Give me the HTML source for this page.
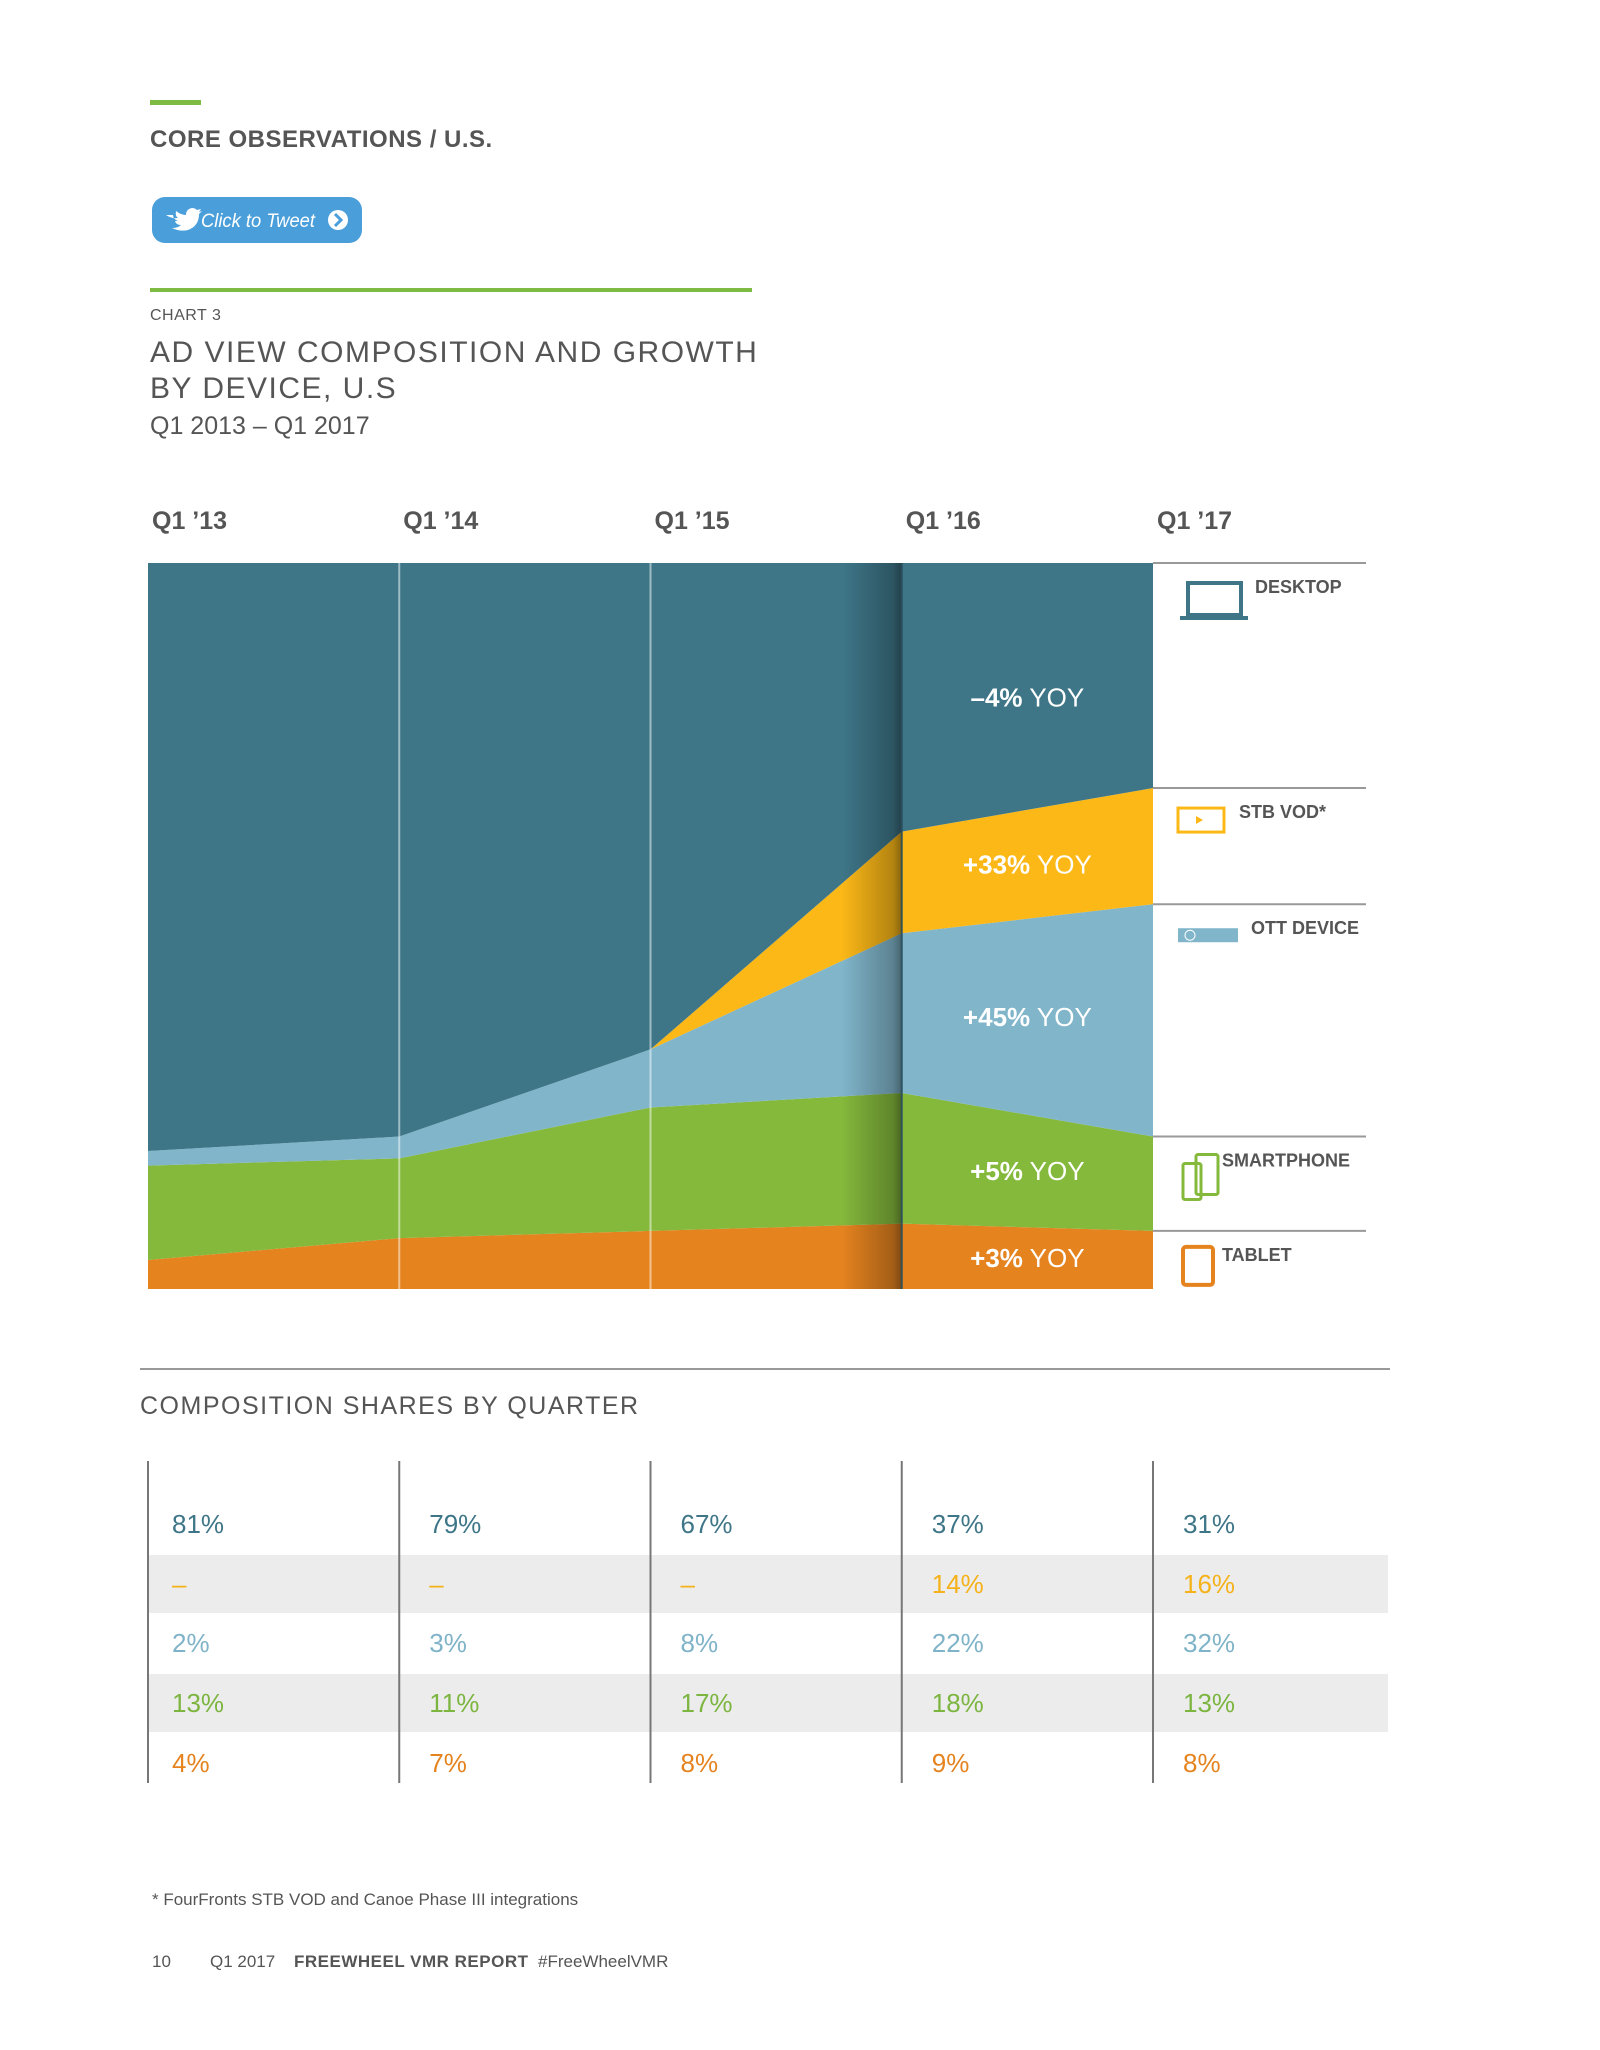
<!DOCTYPE html>
<html><head><meta charset="utf-8"><style>
html,body{margin:0;padding:0;background:#fff;}
svg{display:block;font-family:"Liberation Sans",sans-serif;}
</style></head><body>
<svg id="page" width="1600" height="2050" viewBox="0 0 1600 2050" xmlns="http://www.w3.org/2000/svg">
<defs>
<linearGradient id="fold" x1="0" x2="1" y1="0" y2="0">
<stop offset="0" stop-color="#000" stop-opacity="0"/>
<stop offset="0.85" stop-color="#000" stop-opacity="0.28"/>
<stop offset="1" stop-color="#000" stop-opacity="0.45"/>
</linearGradient>
</defs>
<rect x="150" y="100" width="51" height="5" fill="#7dbb42"/>
<text x="150" y="147" font-size="24" fill="#555" font-weight="bold" letter-spacing="0.5">CORE OBSERVATIONS / U.S.</text>
<g>
<rect x="152" y="197" width="210" height="46" rx="13" fill="#4a9fdb"/>
<path d="M166 215 q6 4 12 3 q-3-2-2-7 q5 4 10 4 q0-6 6-7 q3 0 5 2 l4-1 -2 3 3-1 -3 3 q0 12-11 16 q-8 2-16-2 q6 0 9-3 q-5 0-6-4 h3 q-5-2-5-6 z" fill="#fff"/>
<text x="201" y="227" font-size="19" font-style="italic" fill="#fff" textLength="114" lengthAdjust="spacingAndGlyphs">Click to Tweet</text>
<circle cx="338" cy="220" r="10" fill="#fff"/>
<path d="M335 214 l6 6 -6 6" stroke="#4a9fdb" stroke-width="3" fill="none"/>
</g>
<rect x="150" y="288" width="602" height="4" fill="#7dbb42"/>
<text x="150" y="320" font-size="16" fill="#555" letter-spacing="0.5">CHART 3</text>
<text x="150" y="362" font-size="30" fill="#555" letter-spacing="1.5">AD VIEW COMPOSITION AND GROWTH</text>
<text x="150" y="398" font-size="30" fill="#555" letter-spacing="1.5">BY DEVICE, U.S</text>
<text x="150" y="434" font-size="25" fill="#555">Q1 2013 – Q1 2017</text>
<g id="chart"></g>
<g id="legend"></g>
<rect x="140" y="1368" width="1250" height="2" fill="#999"/>
<text x="140" y="1414" font-size="25" fill="#555" letter-spacing="1.5">COMPOSITION SHARES BY QUARTER</text>
<g id="table"></g>
<text x="152" y="1905" font-size="17" fill="#555">* FourFronts STB VOD and Canoe Phase III integrations</text>
<g font-size="17" fill="#555">
<text x="152" y="1967">10</text>
<text x="210" y="1967">Q1 2017</text>
<text x="294" y="1967" font-weight="bold" letter-spacing="0.5">FREEWHEEL VMR REPORT</text>
<text x="538" y="1967">#FreeWheelVMR</text>
</g>
</svg>
<script>
const quarters = ["Q1 \u201913","Q1 \u201914","Q1 \u201915","Q1 \u201916","Q1 \u201917"];
const seriesNames = ["DESKTOP","STB VOD*","OTT DEVICE","SMARTPHONE","TABLET"];
const desktop = [81,79,67,37,31];
const stbVod = [null,null,null,14,16];
const ott = [2,3,8,22,32];
const smartphone = [13,11,17,18,13];
const tablet = [4,7,8,9,8];
const yoyLabels = ["\u20134%","+33%","+45%","+5%","+3%"];

const NS="http://www.w3.org/2000/svg";
const colors=["#3e7688","#fbb817","#80b5ca","#84b93c","#e5831f"];
const textColors=["#3e7688","#f5b21a","#7fb3c8","#7cb540","#e5831f"];
const X0=148,X1=1153,Y0=563,Y1=1289;
const xs=i=>X0+i*(X1-X0)/(quarters.length-1);
const ys=v=>Y1-v/100*(Y1-Y0);
function mk(tag,attrs,parent){const e=document.createElementNS(NS,tag);for(const k in attrs)e.setAttribute(k,attrs[k]);parent.appendChild(e);return e;}
const chart=document.getElementById('chart');
const stackOrder=[tablet,smartphone,ott,stbVod,desktop];
const stackIdx=[4,3,2,1,0];
let base=quarters.map(()=>0);
const tops=[];
const bottoms=[];
stackOrder.forEach((arr,k)=>{
  const top=base.map((b,i)=>b+(arr[i]||0));
  tops.push(top);
  bottoms.push(base);
  let d="";
  top.forEach((v,i)=>{d+=(i?"L":"M")+xs(i)+" "+ys(v)+" ";});
  for(let i=base.length-1;i>=0;i--)d+="L"+xs(i)+" "+ys(base[i])+" ";
  const p=mk('path',{d:d+"Z",fill:colors[stackIdx[k]]},chart);
  
  
  base=top;
});
const fold=mk('rect',{x:xs(3)-60,y:Y0,width:60,height:Y1-Y0,fill:"url(#fold)"},chart);


for(let i=1;i<4;i++){
  const l=mk('line',{x1:xs(i),x2:xs(i),y1:Y0,y2:Y1,stroke:i==3?"#2a4f5c":"#fff","stroke-opacity":i==3?0.9:0.5,"stroke-width":2},chart);
  
  
}
quarters.forEach((q,i)=>{
  const t=mk('text',{x:xs(i)+4,y:529,"font-size":25,"font-weight":"bold",fill:"#555"},chart);
  t.textContent=q;
  
  
});
const midX=(xs(3)+xs(4))/2;
stackOrder.forEach((arr,k)=>{
  const lo=(bottoms[k][3]+bottoms[k][4])/2;
  const hi=k===4?(100+tops[3][3])/2*2-lo:(tops[k][3]+tops[k][4])/2;
  const yc=ys((lo+hi)/2);
  const t=mk('text',{x:midX,y:yc+9,"font-size":26,fill:"#fff","text-anchor":"middle"},chart);
  t.innerHTML='<tspan font-weight="bold">'+yoyLabels[stackIdx[k]]+'</tspan> YOY';
  
  
});
const legend=document.getElementById('legend');
const LX0=1153,LX1=1366;
const bounds=[100,tops[3][4],tops[2][4],tops[1][4],tops[0][4]];
const lx=[1255,1239,1251,1222,1222];
bounds.forEach((v,j)=>{
  const l=mk('line',{x1:LX0,x2:LX1,y1:ys(v),y2:ys(v),stroke:"#999","stroke-width":2},legend);
  
  
  const t=mk('text',{x:lx[j],y:ys(v)+30,"font-size":18,"font-weight":"bold",fill:"#555"},legend);
  t.textContent=seriesNames[j];
  
  
});
const ic=mk('g',{},legend);


const yd=ys(100);
ic.innerHTML=
 '<rect x="1188" y="'+(yd+20)+'" width="53" height="32" fill="none" stroke="#3e7688" stroke-width="4"/><rect x="1180" y="'+(yd+53)+'" width="68" height="4" fill="#3e7688"/>'+
 '<rect x="1178" y="'+(ys(tops[3][4])+20)+'" width="46" height="24" fill="none" stroke="#fbb817" stroke-width="3"/><path d="M1196 '+(ys(tops[3][4])+28)+' l7 4 -7 4z" fill="#fbb817"/>'+
 '<rect x="1178" y="'+(ys(tops[2][4])+24)+'" width="60" height="14" fill="#80b5ca"/><circle cx="1190" cy="'+(ys(tops[2][4])+31)+'" r="5" fill="none" stroke="#fff" stroke-width="1"/>'+
 '<rect x="1183" y="'+(ys(tops[1][4])+27)+'" width="18" height="36" rx="2" fill="none" stroke="#84b93c" stroke-width="3"/><rect x="1196" y="'+(ys(tops[1][4])+18)+'" width="22" height="40" rx="2" fill="none" stroke="#84b93c" stroke-width="3"/>'+
 '<rect x="1183" y="'+(ys(tops[0][4])+16)+'" width="30" height="38" rx="3" fill="none" stroke="#e5831f" stroke-width="4"/>';
const table=document.getElementById('table');
const rows=[desktop,stbVod,ott,smartphone,tablet];
const rowY=[1524,1584,1643,1703,1763];
[1,3].forEach(r=>{
  const g=mk('rect',{x:148,y:rowY[r]-29,width:1240,height:58,fill:"#ececec"},table);
  
  
});
quarters.forEach((q,i)=>{
  const l=mk('line',{x1:xs(i),x2:xs(i),y1:1461,y2:1783,stroke:"#777","stroke-width":2},table);
  
  
});
rows.forEach((arr,r)=>{
  arr.forEach((v,i)=>{
    const t=mk('text',{x:xs(i)+(i?30:24),y:rowY[r]+9,"font-size":26,fill:textColors[r]},table);
    t.textContent=v==null?"\u2013":v+"%";
    
    
  });
});
</script>
</body></html>
